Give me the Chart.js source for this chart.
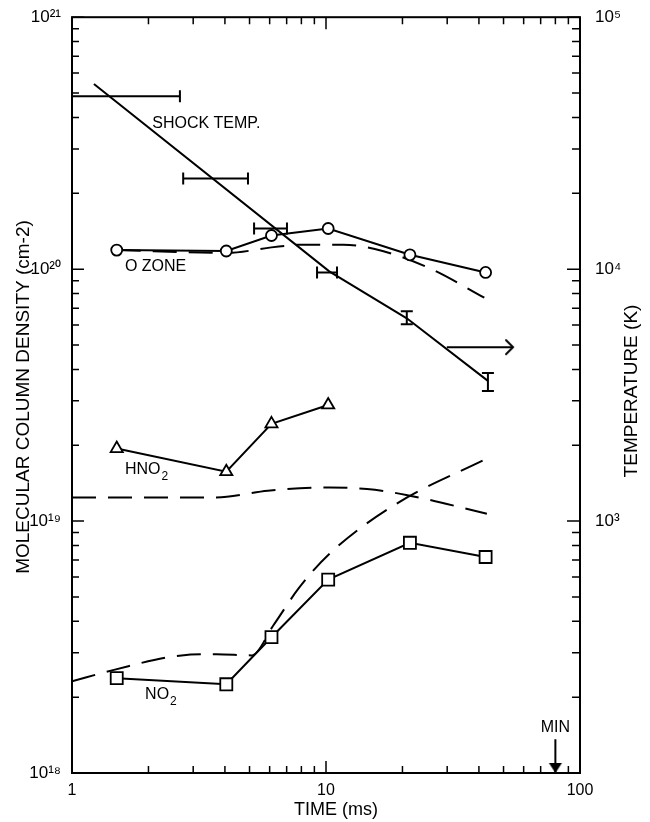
<!DOCTYPE html>
<html>
<head>
<meta charset="utf-8">
<title>Molecular column density</title>
<script src="https://cdn.jsdelivr.net/npm/chart.js@4.4.0/dist/chart.umd.min.js"></script>
<style>
  body { margin: 0; background: #fff; }
  canvas { display: block; }
</style>
</head>
<body>
<canvas id="myChart" width="650" height="822"></canvas>
<script>
// tiempos de medicion (ms)
const tiempos = [1.5, 4.05, 6.1, 10.2, 21.4, 42.5];
// densidad de columna medida (cm-2)
const ozono = [1.19e20, 1.18e20, 1.36e20, 1.45e20, 1.14e20, 9.7e19];
const hno2 = [1.94e19, 1.57e19, 2.43e19, 2.89e19];
const no2 = [2.38e18, 2.25e18, 3.46e18, 5.86e18, 8.2e18, 7.2e18];

// curvas del modelo (linea cortada)
const ozonoModeloT = [1.5, 4.1, 6.1, 8, 11.7, 16.7, 26, 42];
const ozonoModelo = [1.19e20, 1.16e20, 1.22e20, 1.25e20, 1.25e20, 1.18e20, 1.0e20, 7.7e19];
const hno2ModeloT = [1, 2, 3.7, 5.9, 10.3, 14.5, 20.7, 43];
const hno2Modelo = [1.24e19, 1.24e19, 1.24e19, 1.32e19, 1.36e19, 1.34e19, 1.27e19, 1.07e19];
const no2ModeloT = [1, 1.45, 2.7, 3.7, 5.1, 6.2, 7.8, 10.3, 18.9, 43];
const no2Modelo = [2.31e18, 2.56e18, 2.93e18, 2.96e18, 2.93e18, 3.85e18, 5.4e18, 7.4e18, 1.17e19, 1.77e19];

// temperatura del choque (K), eje derecho
const choqueT = [1.22, 10.3, 20.8, 43.4];
const choqueTemp = [54300, 9800, 6380, 3600];

// barras de error horizontales
const barraDesde = [1, 2.74, 5.21, 9.22];
const barraHasta = [2.66, 4.93, 7.02, 11.05];
const barraTemp = [48600, 22900, 14500, 9700];
// barras de error verticales
const barraVT = [20.8, 43.4];
const barraVMin = [6040, 3280];
const barraVMax = [6800, 3870];
// limite inferior (flecha a la derecha)
const flechaT = [29.9, 54.5];
const flechaTemp = 4900;
// marca MIN
const minT = 80;
const minDens = [1.36e18, 1e18];

// etiquetas de los ejes
const ticksX = [1, 10, 100];
const etiquetasX = ['1', '10', '100'];
const ticksDens = [1e18, 1e19, 1e20, 1e21];
const etiquetasDens = ['10¹⁸', '10¹⁹', '10²⁰', '10²¹'];
const ticksTemp = [1e3, 1e4, 1e5];
const etiquetasTemp = ['10³', '10⁴', '10⁵'];

// textos dentro del grafico (en coordenadas de datos)
const textos = [
  { txt: 'SHOCK TEMP.', x: 2.07, y: 3.78e20 },
  { txt: 'O ZONE', x: 1.616, y: 1.02e20 },
  { txt: 'HNO', sub: '2', x: 1.616, y: 1.6e19 },
  { txt: 'NO', sub: '2', x: 1.94, y: 2.04e18 },
  { txt: 'MIN', x: minT, y: 1.51e18, centro: true }
];

const FUENTE = '"Liberation Sans", Arial, sans-serif';

function puntos(xs, ys) {
  return xs.map((x, i) => ({ x: x, y: Array.isArray(ys) ? ys[i] : ys }));
}

function etiqueta(v, ticks, etiquetas) {
  const i = ticks.findIndex(t => Math.abs(Math.log10(t) - Math.log10(v)) < 1e-6);
  return i >= 0 ? etiquetas[i] : '';
}

// punta de flecha abierta ">" con la punta en el centro
function crearPunta() {
  const c = document.createElement('canvas');
  c.width = 18; c.height = 18;
  const g = c.getContext('2d');
  g.strokeStyle = '#000'; g.lineWidth = 2; g.lineCap = 'round';
  g.beginPath(); g.moveTo(2, 2); g.lineTo(9, 9); g.lineTo(2, 16); g.stroke();
  return c;
}

// punta llena hacia abajo con la punta en el centro
function crearPuntaAbajo() {
  const c = document.createElement('canvas');
  c.width = 16; c.height = 26;
  const g = c.getContext('2d');
  g.fillStyle = '#000';
  g.beginPath(); g.moveTo(1.5, 3); g.lineTo(14.5, 3); g.lineTo(8, 13); g.closePath(); g.fill();
  return c;
}

// valores 1..9 x 10^n entre min y max
function valoresLog(min, max) {
  const out = [];
  for (let e = Math.round(Math.log10(min)); e <= Math.round(Math.log10(max)); e++) {
    for (let m = 1; m < 10; m++) {
      const v = m * Math.pow(10, e);
      if (v >= min * 0.9999 && v <= max * 1.0001) out.push([v, m === 1]);
    }
  }
  return out;
}

// marco, ticks hacia adentro, titulos y textos
const marco = {
  id: 'marco',
  afterDraw(chart) {
    const { ctx, chartArea: a, scales } = chart;
    ctx.save();
    ctx.strokeStyle = '#000';
    ctx.lineWidth = 2;
    ctx.strokeRect(a.left, a.top, a.right - a.left, a.bottom - a.top);

    ctx.lineWidth = 1.5;
    ctx.beginPath();
    valoresLog(scales.x.min, scales.x.max).forEach(([v, mayor]) => {
      const px = scales.x.getPixelForValue(v);
      const l = mayor ? 12 : 7;
      ctx.moveTo(px, a.bottom); ctx.lineTo(px, a.bottom - l);
      ctx.moveTo(px, a.top); ctx.lineTo(px, a.top + l);
    });
    valoresLog(scales.y.min, scales.y.max).forEach(([v, mayor]) => {
      const py = scales.y.getPixelForValue(v);
      ctx.moveTo(a.left, py); ctx.lineTo(a.left + (mayor ? 12 : 7), py);
    });
    valoresLog(scales.y2.min, scales.y2.max).forEach(([v, mayor]) => {
      const py = scales.y2.getPixelForValue(v);
      ctx.moveTo(a.right, py); ctx.lineTo(a.right - (mayor ? 13 : 8), py);
    });
    ctx.stroke();

    ctx.fillStyle = '#000';
    ctx.textBaseline = 'middle';

    // titulos de los ejes
    ctx.textAlign = 'center';
    ctx.font = '19px ' + FUENTE;
    ctx.save();
    ctx.translate(24, 397); ctx.rotate(-Math.PI / 2);
    ctx.fillText('MOLECULAR COLUMN DENSITY (cm-2)', 0, 0);
    ctx.restore();
    ctx.save();
    ctx.translate(632, 391); ctx.rotate(-Math.PI / 2);
    ctx.fillText('TEMPERATURE (K)', 0, 0);
    ctx.restore();
    ctx.font = '18px ' + FUENTE;
    ctx.fillText('TIME (ms)', 336, 810);

    // textos de las series
    textos.forEach(t => {
      const px = scales.x.getPixelForValue(t.x);
      const py = scales.y.getPixelForValue(t.y);
      ctx.font = '16px ' + FUENTE;
      ctx.textAlign = t.centro ? 'center' : 'left';
      ctx.fillText(t.txt, px, py);
      if (t.sub) {
        const w = ctx.measureText(t.txt).width;
        ctx.font = '12px ' + FUENTE;
        ctx.fillText(t.sub, px + w + 1, py + 7);
      }
    });
    ctx.restore();
  }
};

function prepararDatasets() {
  const negro = '#000';
  const sets = [
    { data: puntos(tiempos, ozono), yAxisID: 'y', borderColor: negro, borderWidth: 2,
      pointStyle: 'circle', pointRadius: 5.5, pointBackgroundColor: '#fff', pointBorderColor: negro, pointBorderWidth: 1.8, order: 0 },
    { data: puntos(tiempos.slice(0, hno2.length), hno2), yAxisID: 'y', borderColor: negro, borderWidth: 2,
      pointStyle: 'triangle', pointRadius: 7, pointBackgroundColor: '#fff', pointBorderColor: negro, pointBorderWidth: 1.8, order: 0 },
    { data: puntos(tiempos, no2), yAxisID: 'y', borderColor: negro, borderWidth: 2,
      pointStyle: 'rect', pointRadius: 8.5, pointBackgroundColor: '#fff', pointBorderColor: negro, pointBorderWidth: 1.8, order: 0 },
    { data: puntos(ozonoModeloT, ozonoModelo), yAxisID: 'y', borderColor: negro, borderWidth: 2,
      borderDash: [24, 12], pointRadius: 0, cubicInterpolationMode: 'monotone', order: 2 },
    { data: puntos(hno2ModeloT, hno2Modelo), yAxisID: 'y', borderColor: negro, borderWidth: 2,
      borderDash: [24, 12], pointRadius: 0, cubicInterpolationMode: 'monotone', order: 2 },
    { data: puntos(no2ModeloT, no2Modelo), yAxisID: 'y', borderColor: negro, borderWidth: 2,
      borderDash: [24, 12], pointRadius: 0, cubicInterpolationMode: 'monotone', order: 2 },
    { data: puntos(choqueT, choqueTemp), yAxisID: 'y2', borderColor: negro, borderWidth: 2,
      pointRadius: 0, tension: 0, order: 1 }
  ];
  // barras horizontales con tope vertical
  barraTemp.forEach((temp, i) => {
    sets.push({ data: puntos([barraDesde[i], barraHasta[i]], temp), yAxisID: 'y2', borderColor: negro, borderWidth: 2,
      pointStyle: 'line', pointRotation: 90, pointRadius: i === 0 ? [0, 6] : 6, pointBorderColor: negro, pointBorderWidth: 2, order: 1 });
  });
  // barras verticales con tope horizontal
  barraVT.forEach((t, i) => {
    sets.push({ data: [{ x: t, y: barraVMin[i] }, { x: t, y: barraVMax[i] }], yAxisID: 'y2', borderColor: negro, borderWidth: 2,
      pointStyle: 'line', pointRadius: 6, pointBorderColor: negro, pointBorderWidth: 2, order: 1 });
  });
  // limite inferior
  sets.push({ data: puntos(flechaT, flechaTemp), yAxisID: 'y2', borderColor: negro, borderWidth: 2,
    pointStyle: ['line', crearPunta()], pointRadius: [0, 6], clip: false, order: 1 });
  // flecha MIN
  sets.push({ data: puntos([minT, minT], minDens), yAxisID: 'y', borderColor: negro, borderWidth: 2,
    pointStyle: ['line', crearPuntaAbajo()], pointRadius: [0, 6], clip: false, order: 1 });
  return sets;
}

const fuenteTicks = { family: FUENTE, size: 17 };

const config = {
  type: 'line',
  data: { datasets: prepararDatasets() },
  options: {
    responsive: false,
    animation: false,
    events: [],
    layout: { padding: { top: 15, left: 0, right: 0, bottom: 0 } },
    plugins: { legend: { display: false }, tooltip: { enabled: false } },
    scales: {
      x: {
        type: 'logarithmic', min: 1, max: 100,
        grid: { display: false }, border: { display: false },
        ticks: { autoSkip: false, maxRotation: 0, padding: 0, color: '#000', font: { family: FUENTE, size: 16 },
          callback: v => etiqueta(v, ticksX, etiquetasX) },
        afterFit: s => { s.height = 49; }
      },
      y: {
        type: 'logarithmic', position: 'left', min: 1e18, max: 1e21,
        grid: { display: false }, border: { display: false },
        ticks: { autoSkip: false, padding: 3, color: '#000', font: fuenteTicks,
          callback: v => etiqueta(v, ticksDens, etiquetasDens) },
        afterFit: s => { s.width = 72; }
      },
      y2: {
        type: 'logarithmic', position: 'right', min: 100, max: 1e5,
        grid: { display: false }, border: { display: false },
        ticks: { autoSkip: false, padding: 7, color: '#000', font: fuenteTicks,
          callback: v => etiqueta(v, ticksTemp, etiquetasTemp) },
        afterFit: s => { s.width = 70; }
      }
    }
  },
  plugins: [marco]
};

const grafico = new Chart(document.getElementById('myChart'), config);
</script>
</body>
</html>
